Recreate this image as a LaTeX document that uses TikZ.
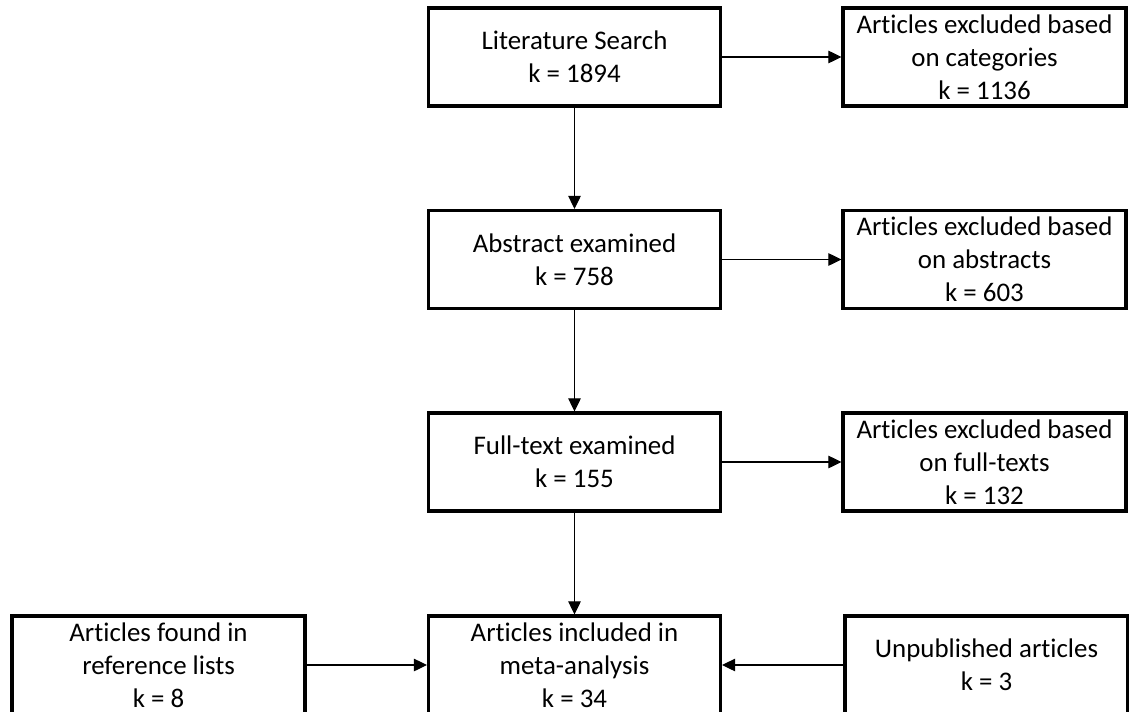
\documentclass[tikz,border=0pt]{standalone}
\usepackage{fontspec}
\setmainfont{Carlito}[Ligatures=NoCommon]
\usetikzlibrary{arrows.meta}
\tikzset{
  box/.style={draw,line width=1.8pt,minimum height=1.96cm,inner sep=0pt,align=center,font=\fontsize{15.3}{18.8}\selectfont},
  mid/.style={box,minimum width=5.84cm},
  side/.style={box,minimum width=5.66cm},
  link/.style={-{Triangle[length=0.26cm,width=0.25cm]},line width=0.6pt}
}
\begin{document}
\begin{tikzpicture}
\useasboundingbox(0,0) rectangle (22.58,14.22);
\clip(0,0) rectangle (22.58,14.22);
\node[mid](search) at (11.49,13.08){Literature Search\\k = 1894};
\node[mid](abstract) at (11.49,9.03){Abstract examined\\k = 758};
\node[mid](fulltext) at (11.49,4.98){Full-text examined\\k = 155};
\node[mid](included) at (11.49,0.92){Articles included in\\meta-analysis\\k = 34};
\node[side](excat) at (19.69,13.08){Articles excluded based\\on categories\\k = 1136};
\node[side](exabs) at (19.69,9.03){Articles excluded based\\on abstracts\\k = 603};
\node[side](exfull) at (19.69,4.98){Articles excluded based\\on full-texts\\k = 132};
\node[box,minimum width=5.86cm](reflists) at (3.17,0.92){Articles found in\\reference lists\\k = 8};
\node[side](unpub) at (19.73,0.92){Unpublished articles\\k = 3};
\draw[link](search)--(abstract);
\draw[link](abstract)--(fulltext);
\draw[link](fulltext)--(included);
\draw[link](search)--(excat);
\draw[link](abstract)--(exabs);
\draw[link](fulltext)--(exfull);
\draw[link](reflists)--(included);
\draw[link](unpub)--(included);
\end{tikzpicture}
\end{document}
